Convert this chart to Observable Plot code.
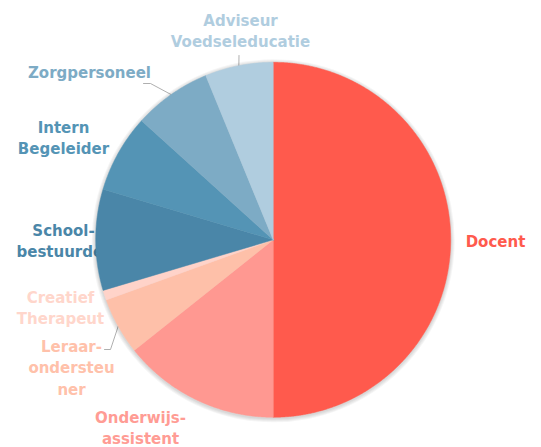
<!DOCTYPE html>
<html><head><meta charset="utf-8">
<script src="https://cdn.jsdelivr.net/npm/d3@7"></script>
<script src="https://cdn.jsdelivr.net/npm/@observablehq/plot@0.6"></script>
<style>html,body{margin:0;padding:0;background:#fff}#chart svg{display:block}</style>
</head><body><div id="chart"></div>
<script>
// ---- data ----
const categories = ["Docent","Onderwijs-assistent","Leraar-ondersteuner","Creatief Therapeut","School-bestuurder","Intern Begeleider","Zorgpersoneel","Adviseur Voedseleducatie"];
const labels = ["Docent","Onderwijs-\nassistent","Leraar-\nondersteu\nner","Creatief\nTherapeut","School-\nbestuurder","Intern\nBegeleider","Zorgpersoneel","Adviseur\nVoedseleducatie"];
const values = [50.0, 14.3, 5.2, 0.9, 9.2, 7.1, 7.1, 6.2];
const sliceColors = ["#FF5A4D","#FF9891","#FEC0A9","#FFD3C9","#4A86A8","#5494B5","#7DABC5","#B0CDDF"];
const labelColors = ["#FF5A4D","#FF9C94","#FFC1AA","#FFD6CB","#4A86A8","#5494B5","#7DABC5","#B0CDDF"];

// ---- layout ----
const W = 541, H = 447, cx = 272.7, cy = 239.3, R = 177.5;
const labelPx = [[495,240],[140,426],[71,366],[60,306],[63,239],[63,136],[89,71],[240,29]];
const leaderElbows = {"Zorgpersoneel": [[150,83],[143,83]], "Adviseur Voedseleducatie": [[238.5,55]], "Leraar-ondersteuner": [[110,349],[104,349]]};

const toU = ([px, py]) => [(px - cx) / R, (py - cy) / R];

const arcs = d3.pie().sort(null).value(d => d)(values);
const polys = [];
arcs.forEach((a, i) => {
  const cat = categories[i], color = sliceColors[i];
  polys.push({cat, color, x: 0, y: 0});
  const n = Math.max(2, Math.ceil((a.endAngle - a.startAngle) / 0.005));
  for (let k = 0; k <= n; k++) {
    const t = a.startAngle + (a.endAngle - a.startAngle) * k / n;
    polys.push({cat, color, x: Math.sin(t), y: -Math.cos(t)});
  }
  polys.push({cat, color, x: 0, y: 0});
});

const leaders = [];
Object.entries(leaderElbows).forEach(([cat, pts]) => {
  const a = arcs[categories.indexOf(cat)];
  const m = (a.startAngle + a.endAngle) / 2;
  leaders.push({cat, x: Math.sin(m), y: -Math.cos(m)});
  pts.forEach(p => { const [x, y] = toU(p); leaders.push({cat, x, y}); });
});

const labelData = categories.map((c, i) => {
  const [x, y] = toU(labelPx[i]);
  return {cat: c, text: labels[i], x, y, color: labelColors[i]};
});

const shadow = [1, 2, 3, 4].map(k => ({x: 0, y: 0.006, r: R + k}));

const chart = Plot.plot({
  width: W, height: H,
  margin: 0,
  x: {domain: [-cx / R, (W - cx) / R], range: [0, W], axis: null},
  y: {domain: [-cy / R, (H - cy) / R], range: [0, H], axis: null},
  color: {type: "identity"},
  r: {type: "identity"},
  style: {background: "#fff"},
  marks: [
    Plot.text(labelData, {x: "x", y: "y", text: "text", fill: "color", fontFamily: "DejaVu Sans", fontWeight: "bold", fontSize: 15, lineHeight: 1.42, textAnchor: "middle"}),
    Plot.line(leaders, {x: "x", y: "y", z: "cat", stroke: "#9a9a9a", strokeWidth: 0.8, curve: "linear"}),
    Plot.dot(shadow, {x: "x", y: "y", r: "r", fill: "#000", fillOpacity: 0.04, stroke: "none"}),
    Plot.line(polys, {x: "x", y: "y", z: "cat", fill: "color", stroke: "color", strokeWidth: 0.5, curve: "linear"})
  ]
});
document.getElementById("chart").appendChild(chart);
</script>
</body></html>
